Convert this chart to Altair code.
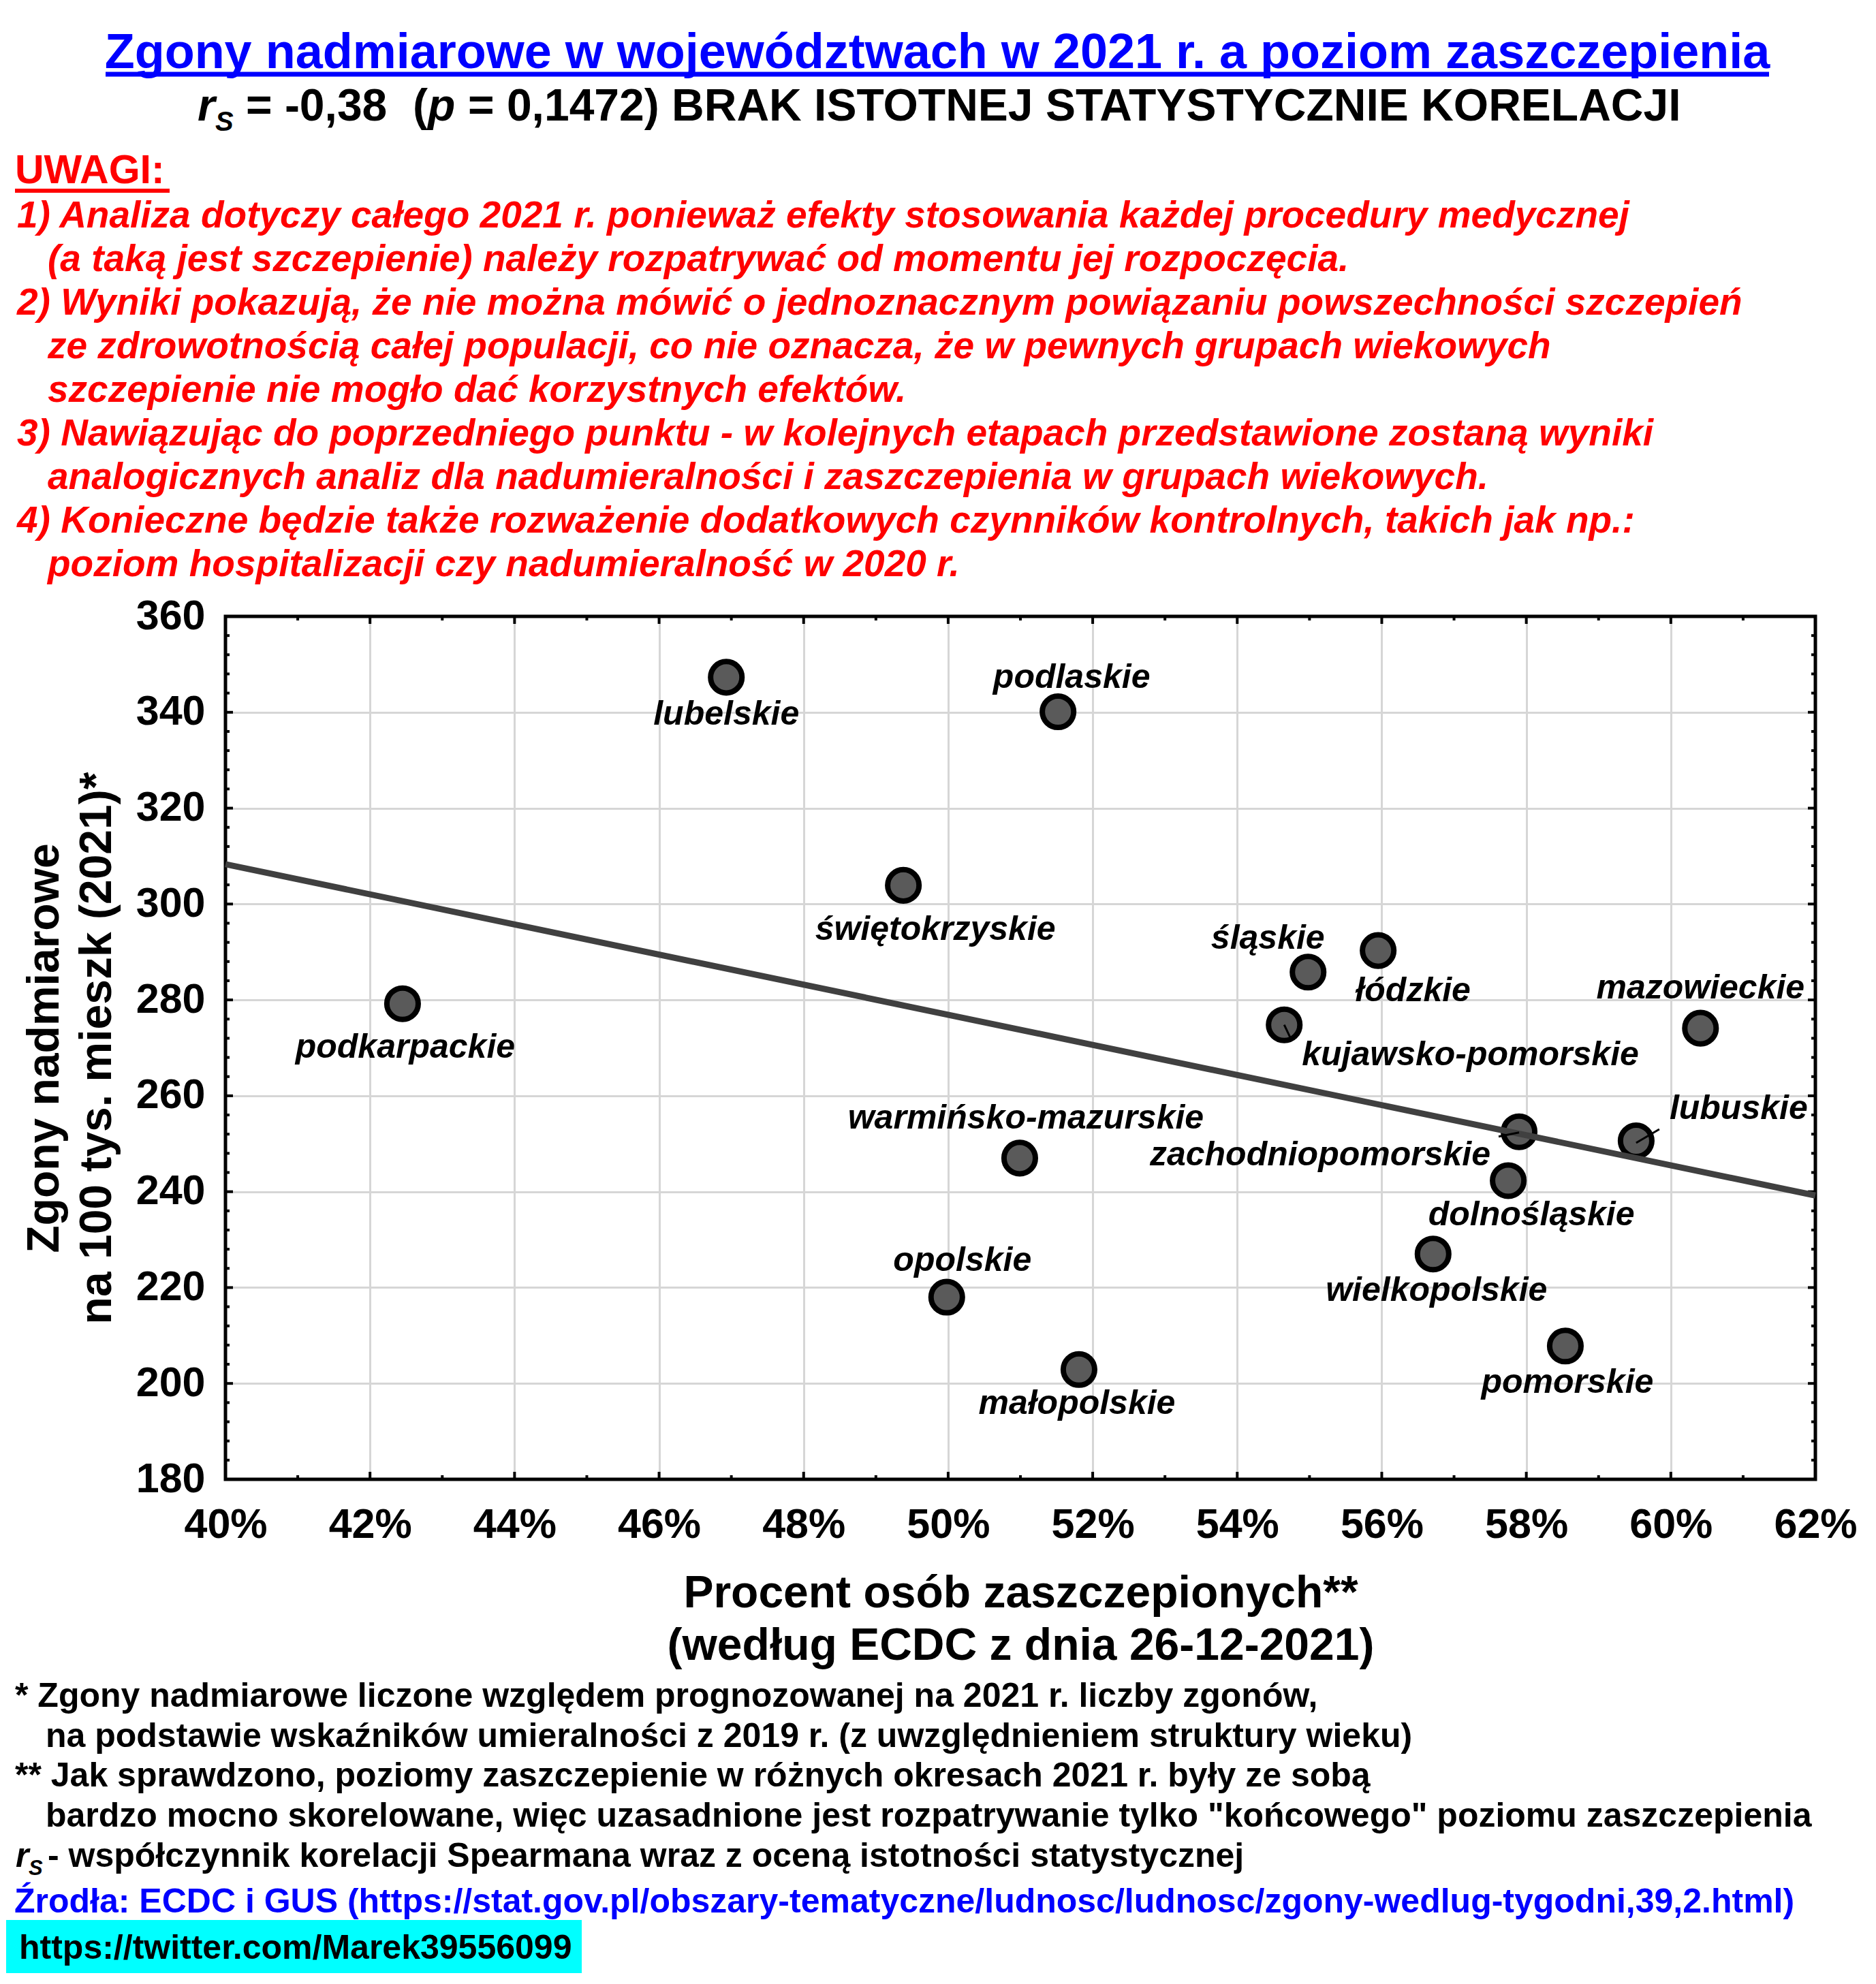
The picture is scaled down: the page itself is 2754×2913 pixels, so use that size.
import altair as alt
import pandas as pd

# ------------------------------------------------------------------ data
regions = ["podkarpackie", "lubelskie", "podlaskie", "świętokrzyskie",
           "warmińsko-mazurskie", "opolskie", "małopolskie", "śląskie",
           "łódzkie", "kujawsko-pomorskie", "mazowieckie", "lubuskie",
           "zachodniopomorskie", "dolnośląskie", "wielkopolskie", "pomorskie"]
vacc_pct = [42.45, 46.93, 51.52, 49.38, 50.99, 49.98, 51.81, 54.98,
            55.95, 54.65, 60.41, 59.52, 57.90, 57.75, 56.71, 58.54]
excess = [279.2, 347.3, 340.1, 303.9, 247.0, 218.0, 202.9, 285.8,
          290.3, 274.8, 274.1, 250.6, 252.5, 242.3, 227.0, 207.8]

x_ticks_major = [40, 42, 44, 46, 48, 50, 52, 54, 56, 58, 60, 62]
x_ticks_minor = [41, 43, 45, 47, 49, 51, 53, 55, 57, 59, 61]
y_ticks_major = [180, 200, 220, 240, 260, 280, 300, 320, 340, 360]
y_ticks_minor = [v for v in range(184, 360, 4) if v % 20]

title_main = "Zgony nadmiarowe w województwach w 2021 r. a poziom zaszczepienia"
title_stat_rest = "= 0,1472) BRAK ISTOTNEJ STATYSTYCZNIE KORELACJI"
notes_header = "UWAGI:"
notes = [
    "1) Analiza dotyczy całego 2021 r. ponieważ efekty stosowania każdej procedury medycznej",
    "(a taką jest szczepienie) należy rozpatrywać od momentu jej rozpoczęcia.",
    "2) Wyniki pokazują, że nie można mówić o jednoznacznym powiązaniu powszechności szczepień",
    "ze zdrowotnością całej populacji, co nie oznacza, że w pewnych grupach wiekowych",
    "szczepienie nie mogło dać korzystnych efektów.",
    "3) Nawiązując do poprzedniego punktu - w kolejnych etapach przedstawione zostaną wyniki",
    "analogicznych analiz dla nadumieralności i zaszczepienia w grupach wiekowych.",
    "4) Konieczne będzie także rozważenie dodatkowych czynników kontrolnych, takich jak np.:",
    "poziom hospitalizacji czy nadumieralność w 2020 r.",
]
notes_indent = [0, 1, 0, 1, 1, 0, 1, 0, 1]
x_title = ["Procent osób zaszczepionych**", "(według ECDC z dnia 26-12-2021)"]
y_title = ["Zgony nadmiarowe", "na 100 tys. mieszk (2021)*"]
footnotes = [
    "* Zgony nadmiarowe liczone względem prognozowanej na 2021 r. liczby zgonów,",
    "na podstawie wskaźników umieralności z 2019 r. (z uwzględnieniem struktury wieku)",
    "** Jak sprawdzono, poziomy zaszczepienie w różnych okresach 2021 r. były ze sobą",
    "bardzo mocno skorelowane, więc uzasadnione jest rozpatrywanie tylko \"końcowego\" poziomu zaszczepienia",
]
footnotes_indent = [0, 1, 0, 1]
rs_note_rest = "- współczynnik korelacji Spearmana wraz z oceną istotności statystycznej"
source_note = "Źrodła: ECDC i GUS (https://stat.gov.pl/obszary-tematyczne/ludnosc/ludnosc/zgony-wedlug-tygodni,39,2.html)"
twitter_note = "https://twitter.com/Marek39556099"

# ------------------------------------------------------------------ layout
W, H = 2334, 1267          # plot area
OX, OY = 331, 905          # page position of plot origin
FONT = "Liberation Sans"

# label placement: (align, dx, dy) in pixels relative to the point
label_layout = {
    "podkarpackie": ("center", 4, 79),
    "lubelskie": ("center", 0, 70),
    "podlaskie": ("center", 20, -35),
    "świętokrzyskie": ("center", 47, 80),
    "warmińsko-mazurskie": ("center", 9, -43),
    "opolskie": ("center", 23, -39),
    "małopolskie": ("center", -3, 65),
    "śląskie": ("center", -59, -34),
    "łódzkie": ("center", 51, 74),
    "kujawsko-pomorskie": ("left", 26, 59),
    "mazowieckie": ("center", 0, -44),
    "lubuskie": ("left", 49, -32),
    "zachodniopomorskie": ("right", -42, 49),
    "dolnośląskie": ("center", 34, 66),
    "wielkopolskie": ("center", 5, 69),
    "pomorskie": ("center", 3, 69),
}
leader_paths = {
    "kujawsko-pomorskie": "M0,0L0.9,1.9",
    "lubuskie": "M0,0.3L3.4,-1.7",
    "zachodniopomorskie": "M-3,0.7L0,0.1",
}

df = pd.DataFrame({"region": regions, "pct": vacc_pct, "excess": excess})
dummy = pd.DataFrame({"k": [0]})

x_enc = alt.X(
    "pct:Q",
    scale=alt.Scale(domain=[40, 62], nice=False, zero=False),
    axis=alt.Axis(
        values=x_ticks_major, labelExpr="datum.value + '%'",
        grid=True, gridColor="#d6d6d6", gridWidth=3,
        domain=False, ticks=False, tickSize=0,
        labelFont=FONT, labelFontSize=61, labelFontWeight="bold",
        labelColor="black", labelPadding=37, labelFlush=False, labelOverlap=False,
        title=x_title, titleFont=FONT, titleFontSize=66, titleFontWeight="bold",
        titleColor="black", titleLineHeight=77, titleX=W / 2, titleY=187,
        titleAlign="center", titleBaseline="alphabetic",
    ),
)
y_enc = alt.Y(
    "excess:Q",
    scale=alt.Scale(domain=[180, 360], nice=False, zero=False),
    axis=alt.Axis(
        values=y_ticks_major,
        grid=True, gridColor="#d6d6d6", gridWidth=3,
        domain=False, ticks=False, tickSize=0,
        labelFont=FONT, labelFontSize=61, labelFontWeight="bold",
        labelColor="black", labelPadding=30, labelOverlap=False,
        title=y_title, titleFont=FONT, titleFontSize=66, titleFontWeight="bold",
        titleColor="black", titleLineHeight=77, titleX=85 - OX, titleY=H / 2,
        titleAngle=270, titleAlign="center", titleBaseline="alphabetic",
    ),
)


def txt(s, px, py, size, color="black", italic=False, align="left"):
    return alt.Chart(dummy).mark_text(
        x=px - OX, y=py - OY, fontSize=size, font=FONT, fontWeight="bold",
        fontStyle="italic" if italic else "normal", color=color,
        align=align, baseline="alphabetic",
    ).encode(text=alt.value(s))


def hline(x1, x2, y, width, color):
    return alt.Chart(dummy).mark_rule(color=color, strokeWidth=width).encode(
        x=alt.value(x1 - OX), x2=alt.value(x2 - OX), y=alt.value(y - OY))


layers = []

# plot frame
layers.append(alt.Chart(dummy).mark_rect(fillOpacity=0, stroke="black", strokeWidth=5).encode(
    x=alt.value(0), x2=alt.value(W), y=alt.value(0), y2=alt.value(H)))

# inward ticks on all four sides
for vals, L in ((x_ticks_major, 11), (x_ticks_minor, 6)):
    d = pd.DataFrame({"pct": vals})
    layers.append(alt.Chart(d).mark_rule(color="black", strokeWidth=4).encode(
        x=x_enc, y=alt.value(H), y2=alt.value(H - L)))
    layers.append(alt.Chart(d).mark_rule(color="black", strokeWidth=4).encode(
        x=x_enc, y=alt.value(0), y2=alt.value(L)))
for vals, L in ((y_ticks_major, 11), (y_ticks_minor, 6)):
    d = pd.DataFrame({"excess": vals})
    layers.append(alt.Chart(d).mark_rule(color="black", strokeWidth=4).encode(
        y=y_enc, x=alt.value(0), x2=alt.value(L)))
    layers.append(alt.Chart(d).mark_rule(color="black", strokeWidth=4).encode(
        y=y_enc, x=alt.value(W), x2=alt.value(W - L)))

# points
layers.append(alt.Chart(df).mark_point(
    shape="circle", filled=True, fill="#5a5a5a", stroke="black", strokeWidth=8,
    size=2124, opacity=1, fillOpacity=1, strokeOpacity=1,
).encode(x=x_enc, y=y_enc))

# regression line
layers.append(alt.Chart(df).transform_regression(
    "pct", "excess", extent=[40, 62]
).mark_line(color="#404040", strokeWidth=9).encode(x=x_enc, y=y_enc))

# leader lines
for name, path in leader_paths.items():
    layers.append(alt.Chart(df).transform_filter(alt.datum.region == name).mark_point(
        shape=path, size=400, filled=False, stroke="black", strokeWidth=3, opacity=1,
    ).encode(x=x_enc, y=y_enc))

# point labels
for name, (al, dx, dy) in label_layout.items():
    layers.append(alt.Chart(df).transform_filter(alt.datum.region == name).mark_text(
        align=al, dx=dx, dy=dy, baseline="alphabetic", font=FONT, fontSize=50,
        fontWeight="bold", fontStyle="italic", color="black",
    ).encode(x=x_enc, y=y_enc, text="region:N"))

# title block
layers.append(txt(title_main, 1376, 100, 72, color="#0000ff", align="center"))
layers.append(hline(155, 2597, 109, 7, "#0000ff"))
layers.append(txt("r", 290, 177, 66, italic=True))
layers.append(txt("S", 316, 192, 40, italic=True))
layers.append(txt("= -0,38", 361, 177, 66))
layers.append(txt("(", 606, 177, 66))
layers.append(txt("p", 628, 177, 66, italic=True))
layers.append(txt(title_stat_rest, 687, 177, 66))

# notes
layers.append(txt(notes_header, 22, 269, 59, color="#ff0000"))
layers.append(hline(22, 249, 280, 6, "#ff0000"))
for i, (line, ind) in enumerate(zip(notes, notes_indent)):
    layers.append(txt(line, 70 if ind else 25, 334 + 64 * i, 55, color="#ff0000", italic=True))

# footnotes
for i, (line, ind) in enumerate(zip(footnotes, footnotes_indent)):
    layers.append(txt(line, 67 if ind else 22, 2506 + 58.7 * i, 50))
layers.append(txt("r", 23, 2741, 50, italic=True))
layers.append(txt("S", 42, 2753, 31, italic=True))
layers.append(txt(rs_note_rest, 70, 2741, 50))
layers.append(txt(source_note, 21, 2808, 50, color="#0000ff"))
layers.append(alt.Chart(dummy).mark_rect(color="#00ffff").encode(
    x=alt.value(9 - OX), x2=alt.value(854 - OX), y=alt.value(2819 - OY), y2=alt.value(2897 - OY)))
layers.append(txt(twitter_note, 28, 2876, 50))

chart = alt.layer(*layers).properties(
    width=W, height=H,
    padding={"left": OX - 8, "top": OY - 8, "right": 75, "bottom": 725},
    autosize=alt.AutoSizeParams(type="none"),
    background="white",
).configure_view(stroke=None)

chart.save("out.html", embed_options={"renderer": "svg", "actions": False})
